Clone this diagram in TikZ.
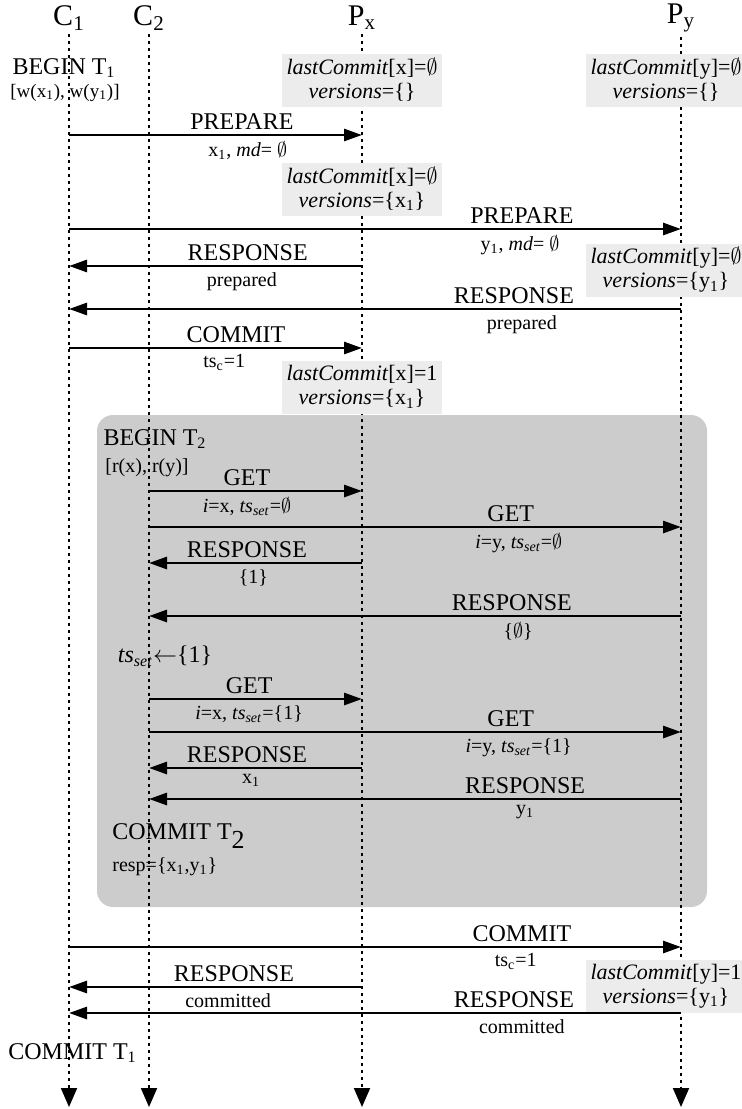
\documentclass[tikz,border=0pt]{standalone}
\usepackage{fontspec}
\setmainfont{Liberation Serif}
\usetikzlibrary{arrows.meta,positioning}

\tikzset{
  actor/.style={font=\fontsize{15}{17}\selectfont, inner sep=2pt},
  lifeline/.style={line width=1pt, dash pattern=on 1.5pt off 2pt,
    -{Triangle[length=9.5pt,width=8pt]}},
  msg/.style={line width=1.4pt, -{Triangle[length=9pt,width=6pt]}},
  lbl/.style={font=\fontsize{12}{14}\selectfont, inner sep=2pt},
  sublbl/.style={font=\fontsize{10}{12}\selectfont, inner sep=2.5pt},
  state/.style={fill=gray!15, font=\fontsize{11}{12}\selectfont, align=center,
    minimum width=80pt, minimum height=26.5pt, inner sep=1pt},
  note/.style={font=\fontsize{12}{14}\selectfont, inner sep=1pt},
  subnote/.style={font=\fontsize{10}{12}\selectfont, inner sep=1pt},
}

\begin{document}
\begin{tikzpicture}[x=0.5pt, y=-0.5pt]
    \useasboundingbox (0,0) rectangle (741,1109);

    % read transaction T2
    \fill[gray!40, rounded corners=8pt] (97,415) rectangle (707,907);

    % clients and partitions
    \node (c1) [actor] at (69,18) {C\textsubscript{1}};
    \node (c2) [actor] at (149,18) {C\textsubscript{2}};
    \node (px) [actor] at (362,18) {P\textsubscript{x}};
    \node (py) [actor] at (681,18) {P\textsubscript{y}};

    \foreach \a in {c1,c2,px,py}
        \draw [lifeline] (\a.south) -- (\a |- 0,1107);

    % partition state
    \node (sx0) [state] at (362,80) {\textit{lastCommit}[x]=$\emptyset$\\\textit{versions}=\{\}};
    \node (sy0) [state] at (666,80) {\textit{lastCommit}[y]=$\emptyset$\\\textit{versions}=\{\}};
    \node (sx1) [state] at (362,189) {\textit{lastCommit}[x]=$\emptyset$\\\textit{versions}=\{x\textsubscript{1}\}};
    \node (sy1) [state] at (666,270) {\textit{lastCommit}[y]=$\emptyset$\\\textit{versions}=\{y\textsubscript{1}\}};
    \node (sx2) [state] at (362,387) {\textit{lastCommit}[x]=1\\\textit{versions}=\{x\textsubscript{1}\}};
    \node (sy2) [state] at (666,986) {\textit{lastCommit}[y]=1\\\textit{versions}=\{y\textsubscript{1}\}};

    % T1 writes
    \node (t1begin) [note, anchor=base] at (64,74) {BEGIN T\textsubscript{1}};
    \node (t1ops) [subnote, anchor=base, font=\fontsize{9.5}{11}\selectfont] at (65,97) {[w(x\textsubscript{1}), w(y\textsubscript{1})]};

    \draw [msg] (c1 |- 0,135) -- node (prepx) [lbl, above, pos=.59] {PREPARE}
        node (prepxv) [sublbl, below, pos=.61] {x\textsubscript{1}, \textit{md}= $\emptyset$} (px |- 0,135);
    \draw [msg] (c1 |- 0,229) -- node (prepy) [lbl, above, pos=.74] {PREPARE}
        node (prepyv) [sublbl, below, pos=.737] {y\textsubscript{1}, \textit{md}= $\emptyset$} (py |- 0,229);
    \draw [msg] (px |- 0,266) -- node (respx) [lbl, above, pos=.39] {RESPONSE}
        node (respxv) [sublbl, below, pos=.41] {prepared} (c1 |- 0,266);
    \draw [msg] (py |- 0,309) -- node (respy) [lbl, above, pos=.273] {RESPONSE}
        node (respyv) [sublbl, below, pos=.26] {prepared} (c1 |- 0,309);
    \draw [msg] (c1 |- 0,348) -- node (comx) [lbl, above, pos=.57] {COMMIT}
        node (comxv) [sublbl, below, pos=.53] {ts\textsubscript{c}=1} (px |- 0,348);

    % T2 reads
    \node (t2begin) [note, anchor=base] at (155,445) {BEGIN T\textsubscript{2}};
    \node (t2ops) [subnote, anchor=base] at (147,472) {[r(x), r(y)]};

    \draw [msg] (c2 |- 0,491) -- node (getx) [lbl, above, pos=.46] {GET}
        node (getxv) [sublbl, below, pos=.46] {\textit{i}=x, \textit{ts}\textsubscript{\textit{set}}=$\emptyset$} (px |- 0,491);
    \draw [msg] (c2 |- 0,527) -- node (gety) [lbl, above, pos=.68] {GET}
        node (getyv) [sublbl, below, pos=.695] {\textit{i}=y, \textit{ts}\textsubscript{\textit{set}}=$\emptyset$} (py |- 0,527);
    \draw [msg] (px |- 0,563) -- node (rgetx) [lbl, above, pos=.54] {RESPONSE}
        node (rgetxv) [sublbl, below, pos=.51] {\{1\}} (c2 |- 0,563);
    \draw [msg] (py |- 0,616) -- node (rgety) [lbl, above, pos=.318] {RESPONSE}
        node (rgetyv) [sublbl, below, pos=.306] {\{$\emptyset$\}} (c2 |- 0,616);

    \node (tsupd) [note] at (165,656) {\textit{ts}\textsubscript{\textit{set}}$\leftarrow$\{1\}};

    \draw [msg] (c2 |- 0,699) -- node (getx2) [lbl, above, pos=.47] {GET}
        node (getx2v) [sublbl, below, pos=.47] {\textit{i}=x, \textit{ts}\textsubscript{\textit{set}}=\{1\}} (px |- 0,699);
    \draw [msg] (c2 |- 0,732) -- node (gety2) [lbl, above, pos=.68] {GET}
        node (gety2v) [sublbl, below, pos=.695] {\textit{i}=y, \textit{ts}\textsubscript{\textit{set}}=\{1\}} (py |- 0,732);
    \draw [msg] (px |- 0,768) -- node (rgetx2) [lbl, above, pos=.54] {RESPONSE}
        node (rgetx2v) [sublbl, below, pos=.52] {x\textsubscript{1}} (c2 |- 0,768);
    \draw [msg] (py |- 0,799) -- node (rgety2) [lbl, above, pos=.293] {RESPONSE}
        node (rgety2v) [sublbl, below, pos=.293] {y\textsubscript{1}} (c2 |- 0,799);

    \node (t2commit) [note, anchor=west] at (110,836) {COMMIT T\textsubscript{\fontsize{13}{13}\selectfont 2}};
    \node (t2resp) [subnote, anchor=west] at (110,867) {resp=\{x\textsubscript{1},y\textsubscript{1}\}};

    % T1 commit on P_y
    \draw [msg] (c1 |- 0,947) -- node (comy) [lbl, above, pos=.74] {COMMIT}
        node (comyv) [sublbl, below, pos=.73] {ts\textsubscript{c}=1} (py |- 0,947);
    \draw [msg] (px |- 0,987) -- node (rcomx) [lbl, above, pos=.437] {RESPONSE}
        node (rcomxv) [sublbl, below, pos=.457] {committed} (c1 |- 0,987);
    \draw [msg] (py |- 0,1013) -- node (rcomy) [lbl, above, pos=.273] {RESPONSE}
        node (rcomyv) [sublbl, below, pos=.26] {committed} (c1 |- 0,1013);

    \node (t1commit) [note, anchor=west] at (6,1053) {COMMIT T\textsubscript{1}};
\end{tikzpicture}
\end{document}
